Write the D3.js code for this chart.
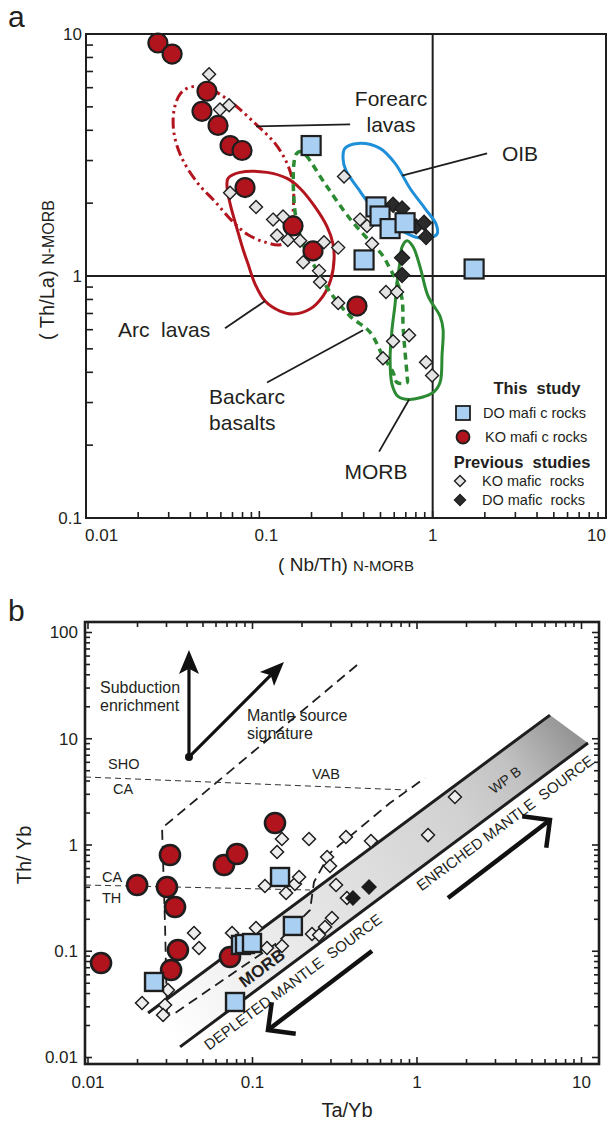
<!DOCTYPE html>
<html>
<head>
<meta charset="utf-8">
<script src="https://cdn.jsdelivr.net/npm/d3@7"></script>
<style>
  body { margin: 0; background: #fff; }
  svg text { font-family: "Liberation Sans", Arial, Helvetica, sans-serif; fill: #231f20; white-space: pre; }
</style>
</head>
<body>
<div id="chart"></div>
<script>
// ---------------- panel a : (Nb/Th)N-MORB vs (Th/La)N-MORB ----------------
// this study
const koNewA = [[0.0260,9.18],[0.0314,8.26],[0.0499,5.80],[0.0467,4.79],[0.0578,4.19],[0.0678,3.46],
  [0.0795,3.30],[0.0827,2.32],[0.1565,1.61],[0.204,1.27],[0.366,0.751]];
const doNewA = [[0.199,3.46],[0.471,1.93],[0.497,1.77],[0.568,1.57],[0.693,1.66],[0.402,1.165],[1.734,1.069]];
// previous studies
const koPrevA = [[0.0513,6.82],[0.0593,4.88],[0.0669,5.08],[0.0678,2.21],[0.0957,1.93],[0.120,1.71],
  [0.137,1.76],[0.1265,1.47],[0.146,1.41],[0.172,1.40],[0.236,1.38],[0.285,1.31],[0.179,1.14],
  [0.221,1.05],[0.224,0.944],[0.285,0.773],[0.308,2.58],[0.381,1.71],[0.418,1.61],[0.447,1.36],
  [0.538,0.858],[0.623,0.858],[0.591,0.537],[0.731,0.569],[0.517,0.457],[0.916,0.440],[0.992,0.388]];
const doPrevA = [[0.591,1.97],[0.666,1.90],[0.802,1.60],[0.892,1.66],[0.916,1.45],[0.666,1.19],[0.666,1.01]];

// field outlines
const forearcField = [[0.0398,6.03],[0.0519,5.91],[0.0678,5.27],[0.0945,4.27],[0.1232,3.53],[0.1445,2.92],
  [0.1565,2.41],[0.1565,1.81],[0.1503,1.42],[0.1317,1.345],[0.1079,1.38],[0.0861,1.48],[0.0696,1.69],
  [0.0555,2.03],[0.0443,2.41],[0.0358,3.06],[0.0322,3.88],[0.0322,4.84],[0.0349,5.64]];
const arcField = [[0.066,2.53],[0.0774,2.68],[0.1108,2.68],[0.1445,2.53],[0.172,2.30],[0.2096,1.93],
  [0.2458,1.60],[0.266,1.36],[0.270,1.18],[0.259,0.972],[0.233,0.826],[0.196,0.730],[0.1565,0.696],
  [0.1317,0.716],[0.1079,0.788],[0.0945,0.926],[0.0861,1.12],[0.0805,1.29],[0.0743,1.57],[0.0678,1.99],[0.0651,2.34]];
const backarcField = [[0.174,3.27],[0.186,3.15],[0.239,2.41],[0.334,1.72],[0.447,1.36],[0.517,1.21],
  [0.568,1.07],[0.623,0.944],[0.666,0.803],[0.675,0.620],[0.693,0.484],[0.712,0.385],[0.712,0.363],
  [0.623,0.363],[0.591,0.400],[0.517,0.466],[0.435,0.586],[0.334,0.682],[0.256,0.858],[0.218,1.04],
  [0.1835,1.29],[0.1607,1.84],[0.1628,3.18]];
const morbField = [[0.666,1.32],[0.712,1.40],[0.771,1.32],[0.846,1.09],[0.941,0.826],[1.103,0.682],
  [1.148,0.603],[1.133,0.474],[1.103,0.363],[1.005,0.330],[0.741,0.309],[0.631,0.318],[0.583,0.356],
  [0.568,0.453],[0.583,0.603],[0.607,0.765],[0.623,0.944],[0.649,1.154]];
const oibField = [[0.312,3.37],[0.371,3.53],[0.497,3.37],[0.607,2.92],[0.741,2.30],[0.904,1.90],
  [1.046,1.64],[1.06,1.49],[0.966,1.44],[0.791,1.45],[0.607,1.60],[0.465,1.86],[0.371,2.30],[0.316,2.73],[0.304,3.06]];

// field labels and their leader lines (data units)
const labelsA = [
  {lines: ["Forearc", "lavas"], at: [0.575, 5.43], anchor: "middle"},
  {lines: ["OIB"], at: [3.19, 3.21], anchor: "middle"},
  {lines: ["Arc  lavas"], at: [0.0282, 0.603], anchor: "middle"},
  {lines: ["Backarc", "basalts"], at: [0.0513, 0.318], anchor: "start"},
  {lines: ["MORB"], at: [0.471, 0.155], anchor: "middle"}
];
const leadersA = [
  [[0.0957,4.15],[0.334,4.23]],
  [[0.666,2.60],[2.06,3.21]],
  [[0.0634,0.608],[0.1079,0.788]],
  [[0.1108,0.363],[0.3967,0.597]],
  [[0.4907,0.188],[0.731,0.309]]
];

// ---------------- panel b : Ta/Yb vs Th/Yb ----------------
const koNewB = [[0.0120,0.0775],[0.0199,0.420],[0.0315,0.805],[0.0302,0.402],[0.0338,0.261],[0.0352,0.1027],
  [0.0320,0.0666],[0.0671,0.648],[0.0805,0.823],[0.0730,0.0883],[0.137,1.61]];
const doNewB = [[0.0252,0.0514],[0.0783,0.0333],[0.0851,0.1146],[0.0900,0.117],[0.0993,0.1196],[0.147,0.500],[0.176,0.173]];
const koPrevB = [[0.0213,0.0326],[0.0306,0.0432],[0.0294,0.0312],[0.0286,0.0251],[0.0441,0.1485],[0.0473,0.1073],
  [0.0751,0.1485],[0.105,0.1655],[0.1225,0.1073],[0.151,0.112],[0.119,0.411],[0.160,0.353],[0.181,0.430],
  [0.192,0.500],[0.151,1.139],[0.2206,1.139],[0.141,0.859],[0.284,0.771],[0.296,0.634],[0.230,0.1454],
  [0.254,0.1422],[0.276,0.169],[0.304,0.2056],[0.322,0.420],[0.375,0.317],[0.370,1.19],[0.525,1.09],
  [1.167,1.24],[1.70,2.83]];
const doPrevB = [[0.408,0.317],[0.511,0.402]];

// MORB-OIB mantle array (upper and lower bounding lines)
const bandUpper = [[0.0232,0.0262],[6.43,16.7]];
const bandLower = [[0.0363,0.0126],[10.95,9.12]];
// dashed boundaries
const vabLine = [[0.432,49.4],[0.0282,1.445],[0.0294,0.1767],[0.0302,0.0262],[0.0338,0.0262],[0.141,0.1196],
  [0.2237,0.2445],[0.2365,0.4485],[0.296,0.841],[0.685,2.485],[1.118,4.272]];
const shoCaLine = [[0.0096,4.365],[0.869,3.294]];
const caThLine = [[0.0096,0.420],[0.2237,0.377]];
// vectors
const subductionArrow = [[0.0411,6.73],[0.0411,68.4]];
const mantleArrow = [[0.0411,6.73],[0.1553,52.8]];
const depletedArrow = [[0.5325,0.1005],[0.1242,0.01815]];
const enrichedArrow = [[1.543,0.317],[6.43,1.72]];

const RED = "#b2141d", BLUE = "#a9d0f2", INK = "#1e1e1e", GREY = "#e4e4e4";

const svg = d3.select("#chart").append("svg").attr("width", 608).attr("height", 1123);

function logValues(lo, hi) {
  const out = [];
  for (let e = -3; e <= 3; e++) for (let k = 1; k <= 9; k++) {
    const v = +(k * Math.pow(10, e)).toPrecision(6);
    if (v >= lo * 0.9999 && v <= hi * 1.0001) out.push({v: v, major: k === 1});
  }
  return out;
}
const fmt = v => v >= 1 ? String(v) : String(+v.toPrecision(3));
const diamondPath = r => `M0,${-r}L${r},0L0,${r}L${-r},0Z`;

function drawCircles(g, data, xs, ys, r, sw) {
  g.append("g").selectAll("circle").data(data).join("circle")
    .attr("cx", d => xs(d[0])).attr("cy", d => ys(d[1])).attr("r", r)
    .attr("fill", RED).attr("stroke", INK).attr("stroke-width", sw);
}
function drawSquares(g, data, xs, ys, s, sw) {
  g.append("g").selectAll("rect").data(data).join("rect")
    .attr("x", d => xs(d[0]) - s / 2).attr("y", d => ys(d[1]) - s / 2)
    .attr("width", s).attr("height", s)
    .attr("fill", BLUE).attr("stroke", INK).attr("stroke-width", sw);
}
function drawDiamonds(g, data, xs, ys, r, fill, sw) {
  g.append("g").selectAll("path").data(data).join("path")
    .attr("transform", d => `translate(${xs(d[0])},${ys(d[1])})`)
    .attr("d", diamondPath(r))
    .attr("fill", fill).attr("stroke", INK).attr("stroke-width", sw);
}

// ======================= panel a =======================
const xA = d3.scaleLog().domain([0.01, 10]).range([86, 606]);
const yA = d3.scaleLog().domain([0.1, 10]).range([518, 34]);
const gA = svg.append("g");

gA.append("text").attr("x", 8).attr("y", 27).attr("font-size", 30).text("a");

// reference lines at 1
gA.append("line").attr("x1", xA(1)).attr("x2", xA(1)).attr("y1", yA(10)).attr("y2", yA(0.1))
  .attr("stroke", INK).attr("stroke-width", 2);
gA.append("line").attr("x1", xA(0.01)).attr("x2", xA(10)).attr("y1", yA(1)).attr("y2", yA(1))
  .attr("stroke", INK).attr("stroke-width", 2);

// ticks (inward, left and bottom)
logValues(0.1, 10).forEach(t => {
  gA.append("line").attr("x1", 86).attr("x2", 86 + (t.major ? 8 : 7)).attr("y1", yA(t.v)).attr("y2", yA(t.v))
    .attr("stroke", INK).attr("stroke-width", 1.6);
  if (t.major) gA.append("text").attr("x", 82).attr("y", yA(t.v)).attr("dy", "0.35em")
    .attr("text-anchor", "end").attr("font-size", 17).text(fmt(t.v));
});
// x tick labels sit just inside the frame at both ends
const xLabelPlace = {0.01: ["start", -1], 0.1: ["middle", 7], 1: ["middle", 0], 10: ["end", 0]};
logValues(0.01, 10).forEach(t => {
  gA.append("line").attr("y1", 518).attr("y2", 518 - (t.major ? 7 : 6)).attr("x1", xA(t.v)).attr("x2", xA(t.v))
    .attr("stroke", INK).attr("stroke-width", 1.6);
  if (t.major) {
    const p = xLabelPlace[t.v];
    gA.append("text").attr("x", xA(t.v) + p[1]).attr("y", 535).attr("dy", "0.35em")
      .attr("text-anchor", p[0]).attr("font-size", 17).text(fmt(t.v));
  }
});

// axis titles
const xtA = gA.append("text").attr("x", 346).attr("y", 571).attr("text-anchor", "middle");
xtA.append("tspan").attr("font-size", 19).text("( Nb/Th) ");
xtA.append("tspan").attr("font-size", 15).text("N-MORB");
const ytA = gA.append("text").attr("transform", "translate(54,270) rotate(-90)").attr("text-anchor", "middle");
ytA.append("tspan").attr("font-size", 20).text("( Th/La) ");
ytA.append("tspan").attr("font-size", 16).text("N-MORB");

// fields
const closedA = d3.line().x(d => xA(d[0])).y(d => yA(d[1])).curve(d3.curveCatmullRomClosed.alpha(0.5));
const fieldsA = [
  {pts: arcField, color: "#b3151e", width: 3, dash: null},
  {pts: forearcField, color: "#b3151e", width: 3, dash: "11,4,2.5,4,2.5,4"},
  {pts: oibField, color: "#1e8fd8", width: 3, dash: null},
  {pts: morbField, color: "#2b8a32", width: 3, dash: null},
  {pts: backarcField, color: "#2b8a32", width: 3.5, dash: "7,5"}
];
gA.append("g").selectAll("path").data(fieldsA).join("path")
  .attr("d", d => closedA(d.pts)).attr("fill", "none")
  .attr("stroke", d => d.color).attr("stroke-width", d => d.width)
  .attr("stroke-dasharray", d => d.dash);

// leader lines + labels
gA.append("g").selectAll("line").data(leadersA).join("line")
  .attr("x1", d => xA(d[0][0])).attr("y1", d => yA(d[0][1]))
  .attr("x2", d => xA(d[1][0])).attr("y2", d => yA(d[1][1]))
  .attr("stroke", INK).attr("stroke-width", 1.8);
labelsA.forEach(l => {
  const t = gA.append("text").attr("text-anchor", l.anchor).attr("font-size", 21);
  l.lines.forEach((s, i) => t.append("tspan").attr("x", xA(l.at[0]))
    .attr("y", yA(l.at[1]) + i * 26).attr("dy", "0.35em").text(s));
});

// points
drawCircles(gA, koNewA, xA, yA, 9.5, 2.2);
drawDiamonds(gA, koPrevA, xA, yA, 6.5, GREY, 1.4);
drawDiamonds(gA, doPrevA, xA, yA, 7.5, "#2b2b2b", 1.4);
drawSquares(gA, doNewA, xA, yA, 19, 2.2);

// frame
gA.append("rect").attr("x", 86).attr("y", 34).attr("width", 520).attr("height", 484)
  .attr("fill", "none").attr("stroke", INK).attr("stroke-width", 2);

// legend
const legA = gA.append("g");
legA.append("text").attr("x", 537).attr("y", 388).attr("dy", "0.35em").attr("text-anchor", "middle")
  .attr("font-size", 16.5).attr("font-weight", "bold").text("This  study");
legA.append("rect").attr("x", 456).attr("y", 406).attr("width", 14).attr("height", 14)
  .attr("fill", BLUE).attr("stroke", INK).attr("stroke-width", 1.8);
legA.append("text").attr("x", 483).attr("y", 413).attr("dy", "0.35em").attr("font-size", 14.5).text("DO mafi c rocks");
legA.append("circle").attr("cx", 463).attr("cy", 437).attr("r", 6.5)
  .attr("fill", RED).attr("stroke", INK).attr("stroke-width", 1.8);
legA.append("text").attr("x", 485).attr("y", 437).attr("dy", "0.35em").attr("font-size", 14.5).text("KO mafi c rocks");
legA.append("text").attr("x", 522).attr("y", 462).attr("dy", "0.35em").attr("text-anchor", "middle")
  .attr("font-size", 16.5).attr("font-weight", "bold").text("Previous  studies");
legA.append("path").attr("transform", "translate(460,481)").attr("d", diamondPath(5.5))
  .attr("fill", GREY).attr("stroke", INK).attr("stroke-width", 1.4);
legA.append("text").attr("x", 482).attr("y", 481).attr("dy", "0.35em").attr("font-size", 14.5).text("KO mafic  rocks");
legA.append("path").attr("transform", "translate(460,500)").attr("d", diamondPath(5.5))
  .attr("fill", "#2b2b2b").attr("stroke", INK).attr("stroke-width", 1.4);
legA.append("text").attr("x", 482).attr("y", 500).attr("dy", "0.35em").attr("font-size", 14.5).text("DO mafic  rocks");

// ======================= panel b =======================
const xB = d3.scaleLog().domain([0.01, 10]).range([88, 581.5]);
const yB = d3.scaleLog().domain([0.01, 100]).range([1057.5, 632.5]);
const frameB = {x0: 85, x1: 599, y0: 622, y1: 1064};
const gB = svg.append("g");

gB.append("text").attr("x", 8).attr("y", 621).attr("font-size", 30).text("b");

// mantle array band with gradient
const defs = svg.append("defs");
const p0 = [(xB(bandUpper[0][0]) + xB(bandLower[0][0])) / 2, (yB(bandUpper[0][1]) + yB(bandLower[0][1])) / 2];
const p1 = [(xB(bandUpper[1][0]) + xB(bandLower[1][0])) / 2, (yB(bandUpper[1][1]) + yB(bandLower[1][1])) / 2];
const grad = defs.append("linearGradient").attr("id", "band").attr("gradientUnits", "userSpaceOnUse")
  .attr("x1", p0[0]).attr("y1", p0[1]).attr("x2", p1[0]).attr("y2", p1[1]);
[[0, "#ffffff"], [0.22, "#eeeeee"], [0.5, "#dedede"], [0.72, "#d2d2d2"], [0.86, "#c2c2c2"], [1, "#959595"]]
  .forEach(s => grad.append("stop").attr("offset", s[0]).attr("stop-color", s[1]));
const bandPoly = [bandUpper[0], bandUpper[1], bandLower[1], bandLower[0]];
gB.append("path").attr("d", "M" + bandPoly.map(d => [xB(d[0]), yB(d[1])].join(",")).join("L") + "Z")
  .attr("fill", "url(#band)");
[bandUpper, bandLower].forEach(l => gB.append("line")
  .attr("x1", xB(l[0][0])).attr("y1", yB(l[0][1])).attr("x2", xB(l[1][0])).attr("y2", yB(l[1][1]))
  .attr("stroke", INK).attr("stroke-width", 3));

// text labels
const lineB = d3.line().x(d => xB(d[0])).y(d => yB(d[1]));
const txt = (x, y, s, size, opts = {}) => gB.append("text").attr("x", x).attr("y", y).attr("dy", "0.35em")
  .attr("font-size", size).attr("text-anchor", opts.anchor || "start")
  .attr("font-weight", opts.bold ? "bold" : null)
  .attr("transform", opts.rot ? `rotate(${opts.rot},${x},${y})` : null).text(s);
const rot = -Math.atan2(yB(bandUpper[0][1]) - yB(bandUpper[1][1]), xB(bandUpper[1][0]) - xB(bandUpper[0][0])) * 180 / Math.PI;

txt(xB(0.01183), yB(30.7), "Subduction", 16);
txt(xB(0.01183), yB(20.8), "enrichment", 16);
txt(xB(0.0926), yB(16.7), "Mantle source", 16);
txt(xB(0.0926), yB(11.3), "signature", 16);
txt(xB(0.01323), yB(5.79), "SHO", 14.5);
txt(xB(0.0142), yB(3.37), "CA", 14.5);
txt(xB(0.230), yB(4.66), "VAB", 14.5);
txt(xB(0.01217), yB(0.500), "CA", 14.5);
txt(xB(0.01217), yB(0.317), "TH", 14.5);
txt(xB(0.176), yB(0.0514), "DEPLETED MANTLE  SOURCE", 15, {anchor: "middle", rot: rot});
txt(xB(3.43), yB(1.61), "ENRICHED MANTLE  SOURCE", 15, {anchor: "middle", rot: rot});
txt(xB(3.43), yB(4.09), "WP B", 14, {anchor: "middle", rot: rot});

// dashed boundaries
gB.append("path").attr("d", lineB(vabLine)).attr("fill", "none").attr("stroke", INK)
  .attr("stroke-width", 1.8).attr("stroke-dasharray", "10,6");
[shoCaLine, caThLine].forEach(l => gB.append("path").attr("d", lineB(l)).attr("fill", "none")
  .attr("stroke", "#333").attr("stroke-width", 1).attr("stroke-dasharray", "6,4"));

// vectors
function solidArrow(a, b) {
  const x0 = xB(a[0]), y0 = yB(a[1]), x1 = xB(b[0]), y1 = yB(b[1]);
  const ang = Math.atan2(y1 - y0, x1 - x0), L = 24, W = 10;
  const bx = x1 - L * Math.cos(ang), by = y1 - L * Math.sin(ang);
  const nx = x1 - 0.78 * L * Math.cos(ang), ny = y1 - 0.78 * L * Math.sin(ang);
  gB.append("line").attr("x1", x0).attr("y1", y0).attr("x2", nx).attr("y2", ny)
    .attr("stroke", "#111").attr("stroke-width", 3.2);
  gB.append("path").attr("d", `M${x1},${y1}L${bx + W * Math.sin(ang)},${by - W * Math.cos(ang)}` +
    `L${nx},${ny}L${bx - W * Math.sin(ang)},${by + W * Math.cos(ang)}Z`).attr("fill", "#111");
}
solidArrow(subductionArrow[0], subductionArrow[1]);
solidArrow(mantleArrow[0], mantleArrow[1]);
gB.append("circle").attr("cx", xB(subductionArrow[0][0])).attr("cy", yB(subductionArrow[0][1])).attr("r", 4).attr("fill", "#111");

function openArrow(a, b) {
  const x0 = xB(a[0]), y0 = yB(a[1]), x1 = xB(b[0]), y1 = yB(b[1]);
  const back = Math.atan2(y0 - y1, x0 - x1), L = 28;
  gB.append("path").attr("d", `M${x0},${y0}L${x1},${y1}`).attr("stroke", "#111").attr("stroke-width", 4.5);
  gB.append("path").attr("d",
    `M${x1 + L * Math.cos(back + Math.PI / 4)},${y1 + L * Math.sin(back + Math.PI / 4)}L${x1},${y1}` +
    `L${x1 + L * Math.cos(back - Math.PI / 4)},${y1 + L * Math.sin(back - Math.PI / 4)}`)
    .attr("fill", "none").attr("stroke", "#111").attr("stroke-width", 4.5).attr("stroke-linejoin", "miter");
}
openArrow(depletedArrow[0], depletedArrow[1]);
openArrow(enrichedArrow[0], enrichedArrow[1]);

// points
drawDiamonds(gB, koPrevB, xB, yB, 6.5, "#eeeeee", 1.5);
drawDiamonds(gB, doPrevB, xB, yB, 7, "#1b1b1b", 1.4);
drawCircles(gB, koNewB, xB, yB, 10, 2.6);
drawSquares(gB, doNewB, xB, yB, 18, 2.4);

// MORB label sits on top of the band
txt(xB(0.114), yB(0.0696), "MORB", 17, {anchor: "middle", bold: true, rot: rot});

// ticks on all four sides, inward
logValues(0.01, 100).forEach(t => {
  const len = t.major ? 7 : 5;
  [[frameB.x0, 1], [frameB.x1, -1]].forEach(s => gB.append("line")
    .attr("x1", s[0]).attr("x2", s[0] + s[1] * len).attr("y1", yB(t.v)).attr("y2", yB(t.v))
    .attr("stroke", INK).attr("stroke-width", 1.6));
  if (t.major) gB.append("text").attr("x", 78).attr("y", yB(t.v)).attr("dy", "0.35em")
    .attr("text-anchor", "end").attr("font-size", 17).text(fmt(t.v));
});
logValues(0.01, 10).forEach(t => {
  const len = t.major ? 7 : 5;
  [[frameB.y1, -1], [frameB.y0, 1]].forEach(s => gB.append("line")
    .attr("y1", s[0]).attr("y2", s[0] + s[1] * len).attr("x1", xB(t.v)).attr("x2", xB(t.v))
    .attr("stroke", INK).attr("stroke-width", 1.6));
  if (t.major) gB.append("text").attr("x", xB(t.v)).attr("y", 1082).attr("dy", "0.35em")
    .attr("text-anchor", "middle").attr("font-size", 17).text(fmt(t.v));
});

gB.append("rect").attr("x", frameB.x0).attr("y", frameB.y0)
  .attr("width", frameB.x1 - frameB.x0).attr("height", frameB.y1 - frameB.y0)
  .attr("fill", "none").attr("stroke", INK).attr("stroke-width", 2.6);

gB.append("text").attr("x", 347).attr("y", 1110).attr("dy", "0.35em").attr("text-anchor", "middle")
  .attr("font-size", 20).text("Ta/Yb");
gB.append("text").attr("transform", "translate(24,855) rotate(-90)").attr("dy", "0.35em")
  .attr("text-anchor", "middle").attr("font-size", 20).text("Th/ Yb");
</script>
</body>
</html>
